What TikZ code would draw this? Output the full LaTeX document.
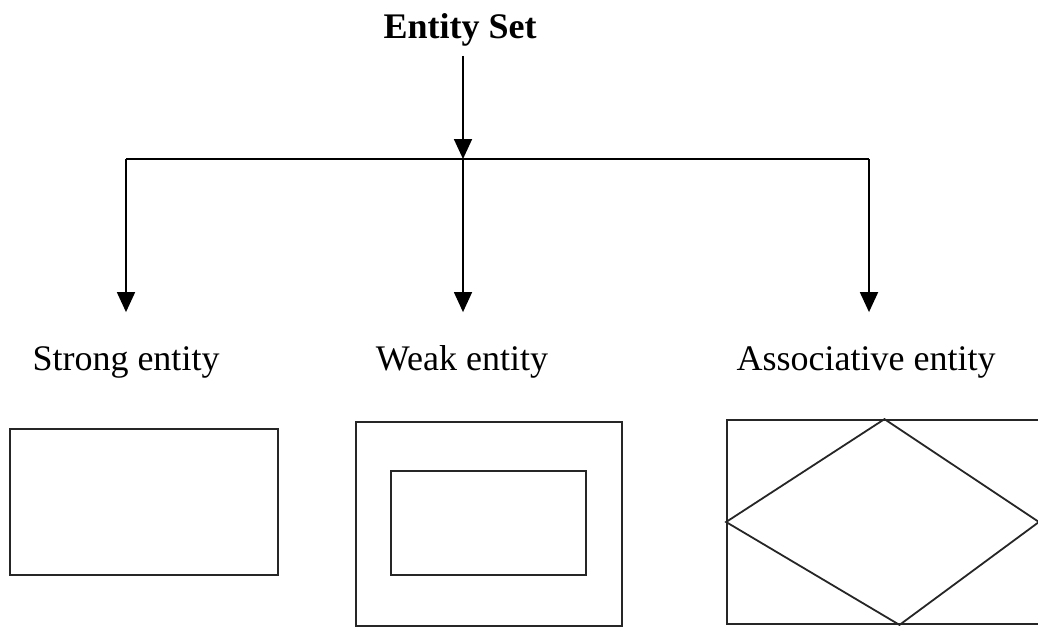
\documentclass[tikz,border=0pt]{standalone}
\usepackage{fontspec}
\setmainfont{Liberation Serif}
\usetikzlibrary{arrows.meta,positioning}

\begin{document}
\begin{tikzpicture}[x=0.5pt, y=-0.5pt,
                   line width=0.9pt,
                   kindtext/.style={font=\fontsize{18}{20}\selectfont, inner sep=0pt,
                                    text height=13pt, text depth=4pt, anchor=base},
                   arr/.style={-{Triangle[length=10pt,width=9pt]}, shorten >=15.5pt},
                   box/.style={draw=black!85, inner sep=0pt}]
\useasboundingbox (0,0) rectangle (1038,627);
% headings
\node[kindtext, font=\fontsize{18}{20}\selectfont\bfseries] (title) at (460,38) {Entity Set};
\node[kindtext] (strong) at (126,370) {Strong entity};
\node[kindtext] (weak) at (462,370) {Weak entity};
\node[kindtext] (assoc) at (866,370) {Associative entity};
% branch points
\coordinate (jc) at (463,159);
\coordinate (jl) at (126,159);
\coordinate (jr) at (869,159);
\draw[-{Triangle[length=10pt,width=9pt]}, shorten <=4.5pt] (title.south -| jc) -- (jc);
\draw (jl) -- (jr);
\draw[arr] (jl) -- (jl |- strong.north);
\draw[arr, line width=0.7pt] (jc) -- (jc |- weak.north);
\draw[arr] (jr) -- (jr |- assoc.north);
% symbols
\node[box, minimum width=134pt, minimum height=73pt] (strongbox) at (144,502) {};
\node[box, minimum width=133pt, minimum height=102pt] (weakout) at (489,524) {};
\node[box, minimum width=97.5pt, minimum height=52pt] (weakin) at (488.5,523) {};
\node[box, minimum width=157.5pt, minimum height=102pt] (assocbox) at (884.5,522) {};
\draw[black!85] (assocbox.north) -- (assocbox.west) -- ([xshift=7.5pt]assocbox.south)
      -- ([xshift=-2pt]assocbox.east) -- cycle;
\end{tikzpicture}
\end{document}
